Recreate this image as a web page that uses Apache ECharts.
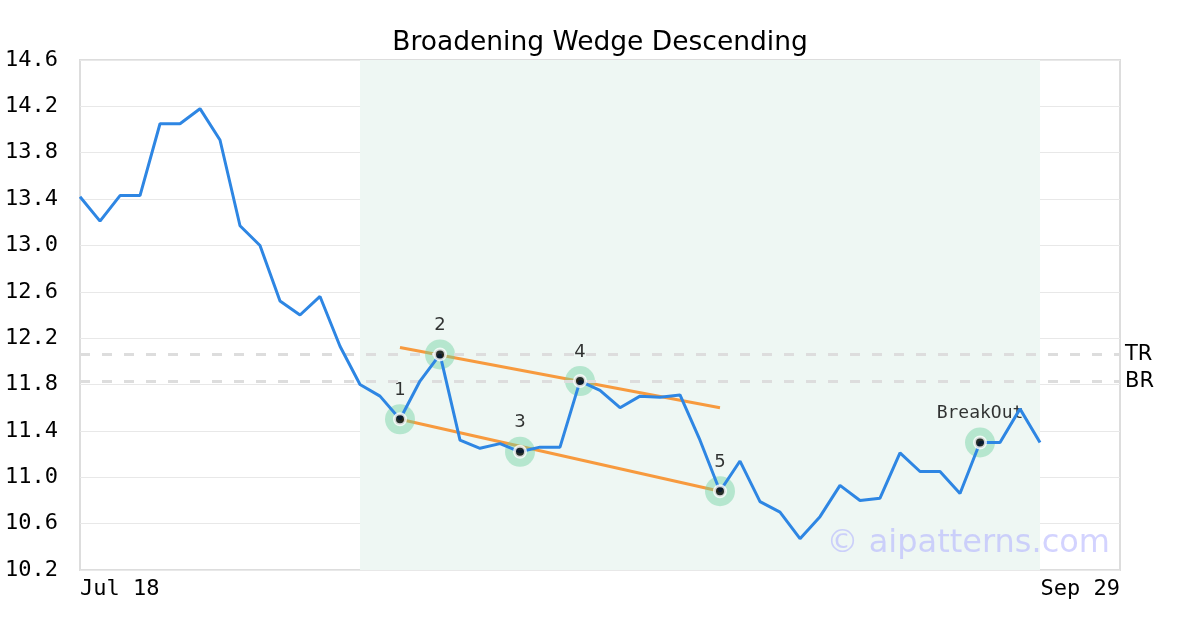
<!DOCTYPE html>
<html><head><meta charset="utf-8">
<script src="https://cdn.jsdelivr.net/npm/echarts@6/dist/echarts.min.js"></script>
<style>html,body{margin:0;padding:0;background:#fff}#c{width:1200px;height:630px}</style>
</head><body><div id="c"></div>
<script>
const dates = ['Jul 18','Jul 19','Jul 20','Jul 21','Jul 22','Jul 25','Jul 26','Jul 27','Jul 28','Jul 29',
 'Aug 1','Aug 2','Aug 3','Aug 4','Aug 5','Aug 8','Aug 9','Aug 10','Aug 11','Aug 12','Aug 15','Aug 16','Aug 17','Aug 18','Aug 19','Aug 22','Aug 23','Aug 24','Aug 25','Aug 26','Aug 29','Aug 30','Aug 31',
 'Sep 1','Sep 2','Sep 6','Sep 7','Sep 8','Sep 9','Sep 12','Sep 13','Sep 14','Sep 15','Sep 16','Sep 19','Sep 20','Sep 21','Sep 22','Sep 23','Sep 26','Sep 27','Sep 28','Sep 29'];
const prices = [13.42,13.21,13.43,13.43,14.05,14.05,14.18,13.91,13.17,13.0,
 12.52,12.40,12.56,12.13,11.80,11.70,11.50,11.83,12.06,11.32,11.25,11.29,11.22,11.26,11.26,11.83,11.75,11.60,11.70,11.69,11.71,11.32,10.88,
 11.14,10.79,10.70,10.47,10.66,10.93,10.80,10.82,11.21,11.05,11.05,10.86,11.30,11.30,11.59,11.30];
const pivotIdx = [16,18,22,25,32,45];
const pivotLabels = ['1','2','3','4','5','BreakOut'];
const upperLine = [[16,12.12],[32,11.60]];
const lowerLine = [[16,11.50],[32,10.88]];
const levels = [{name:'TR', value:12.064},{name:'BR', value:11.83}];
const zoneStart = 14, zoneEnd = 48;
const yTicks = {min:10.2, max:14.6, interval:0.4};

const mono = 'DejaVu Sans Mono';
const sans = 'DejaVu Sans';
const priceData = dates.map((d,i)=> i < prices.length ? prices[i] : null);
const pivotData = pivotIdx.map((ix,k)=>({value:[ix, prices[ix]], label:{formatter:pivotLabels[k], color:'#000', fontSize:18, fontFamily: k===5?mono:sans}}));

const chart = echarts.init(document.getElementById('c'), null, {renderer:'canvas'});
chart.setOption({
  animation:false,
  backgroundColor:'#fff',
  title:{text:'Broadening Wedge Descending', left:'center', top:25, textStyle:{fontFamily:sans, fontWeight:'normal', fontSize:26.5, color:'#000'}},
  grid:{left:80, right:80, top:60, bottom:60, show:true, borderColor:'#dddddd', borderWidth:2, backgroundColor:'transparent'},
  xAxis:{type:'category', data:dates, boundaryGap:false,
    axisLine:{show:false}, axisTick:{show:false}, splitLine:{show:false},
    axisLabel:{interval:(i)=> i===0 || i===dates.length-1, fontFamily:mono, fontSize:22, color:'#000', margin:8,
      alignMinLabel:'left', alignMaxLabel:'right'}},
  yAxis:{type:'value', min:yTicks.min, max:yTicks.max, interval:yTicks.interval,
    axisLine:{show:false}, axisTick:{show:false},
    splitLine:{lineStyle:{color:'#e8e8e8', width:1}},
    axisLabel:{formatter:(v)=>v.toFixed(1), fontFamily:mono, fontSize:22, color:'#000', align:'left', margin:75, padding:[4,0,0,0]}},
  graphic:[{type:'text', right:90, top:528, z:100, style:{text:'© aipatterns.com', fontFamily:sans, fontSize:32, fill:'rgba(175,175,255,0.55)'}}],
  series:[
    {type:'line', data:priceData, symbol:'none', z:1, lineStyle:{width:0},
     markArea:{silent:true, itemStyle:{color:'#eef7f3'}, data:[[{xAxis:zoneStart},{xAxis:zoneEnd}]]},
     markLine:{silent:true, symbol:'none', lineStyle:{type:[10,12], color:'#dddddd', width:3},
       label:{position:'end', formatter:(p)=>p.name, fontFamily:sans, fontSize:21, color:'#000', distance:5, padding:[4,0,0,0]},
       data:levels.map(l=>({name:l.name, yAxis:l.value}))}},
    {type:'line', data:upperLine, symbol:'none', z:3, lineStyle:{color:'#f79a3e', width:3}},
    {type:'line', data:lowerLine, symbol:'none', z:3, lineStyle:{color:'#f79a3e', width:3}},
    {type:'scatter', data:pivotData, symbol:'circle', symbolSize:30, z:4,
     itemStyle:{color:'rgba(110,210,160,0.55)'},
     label:{show:true, position:'top', distance:5, fontSize:18, color:'#000'}},
    {type:'line', data:priceData, symbol:'none', z:5, lineStyle:{color:'#2e86e3', width:3}},
    {type:'scatter', data:pivotIdx.map(ix=>[ix, prices[ix]]), symbol:'circle', symbolSize:11, z:6,
     itemStyle:{color:'#000', borderColor:'#fff', borderWidth:3}}
  ]
});
</script></body></html>
